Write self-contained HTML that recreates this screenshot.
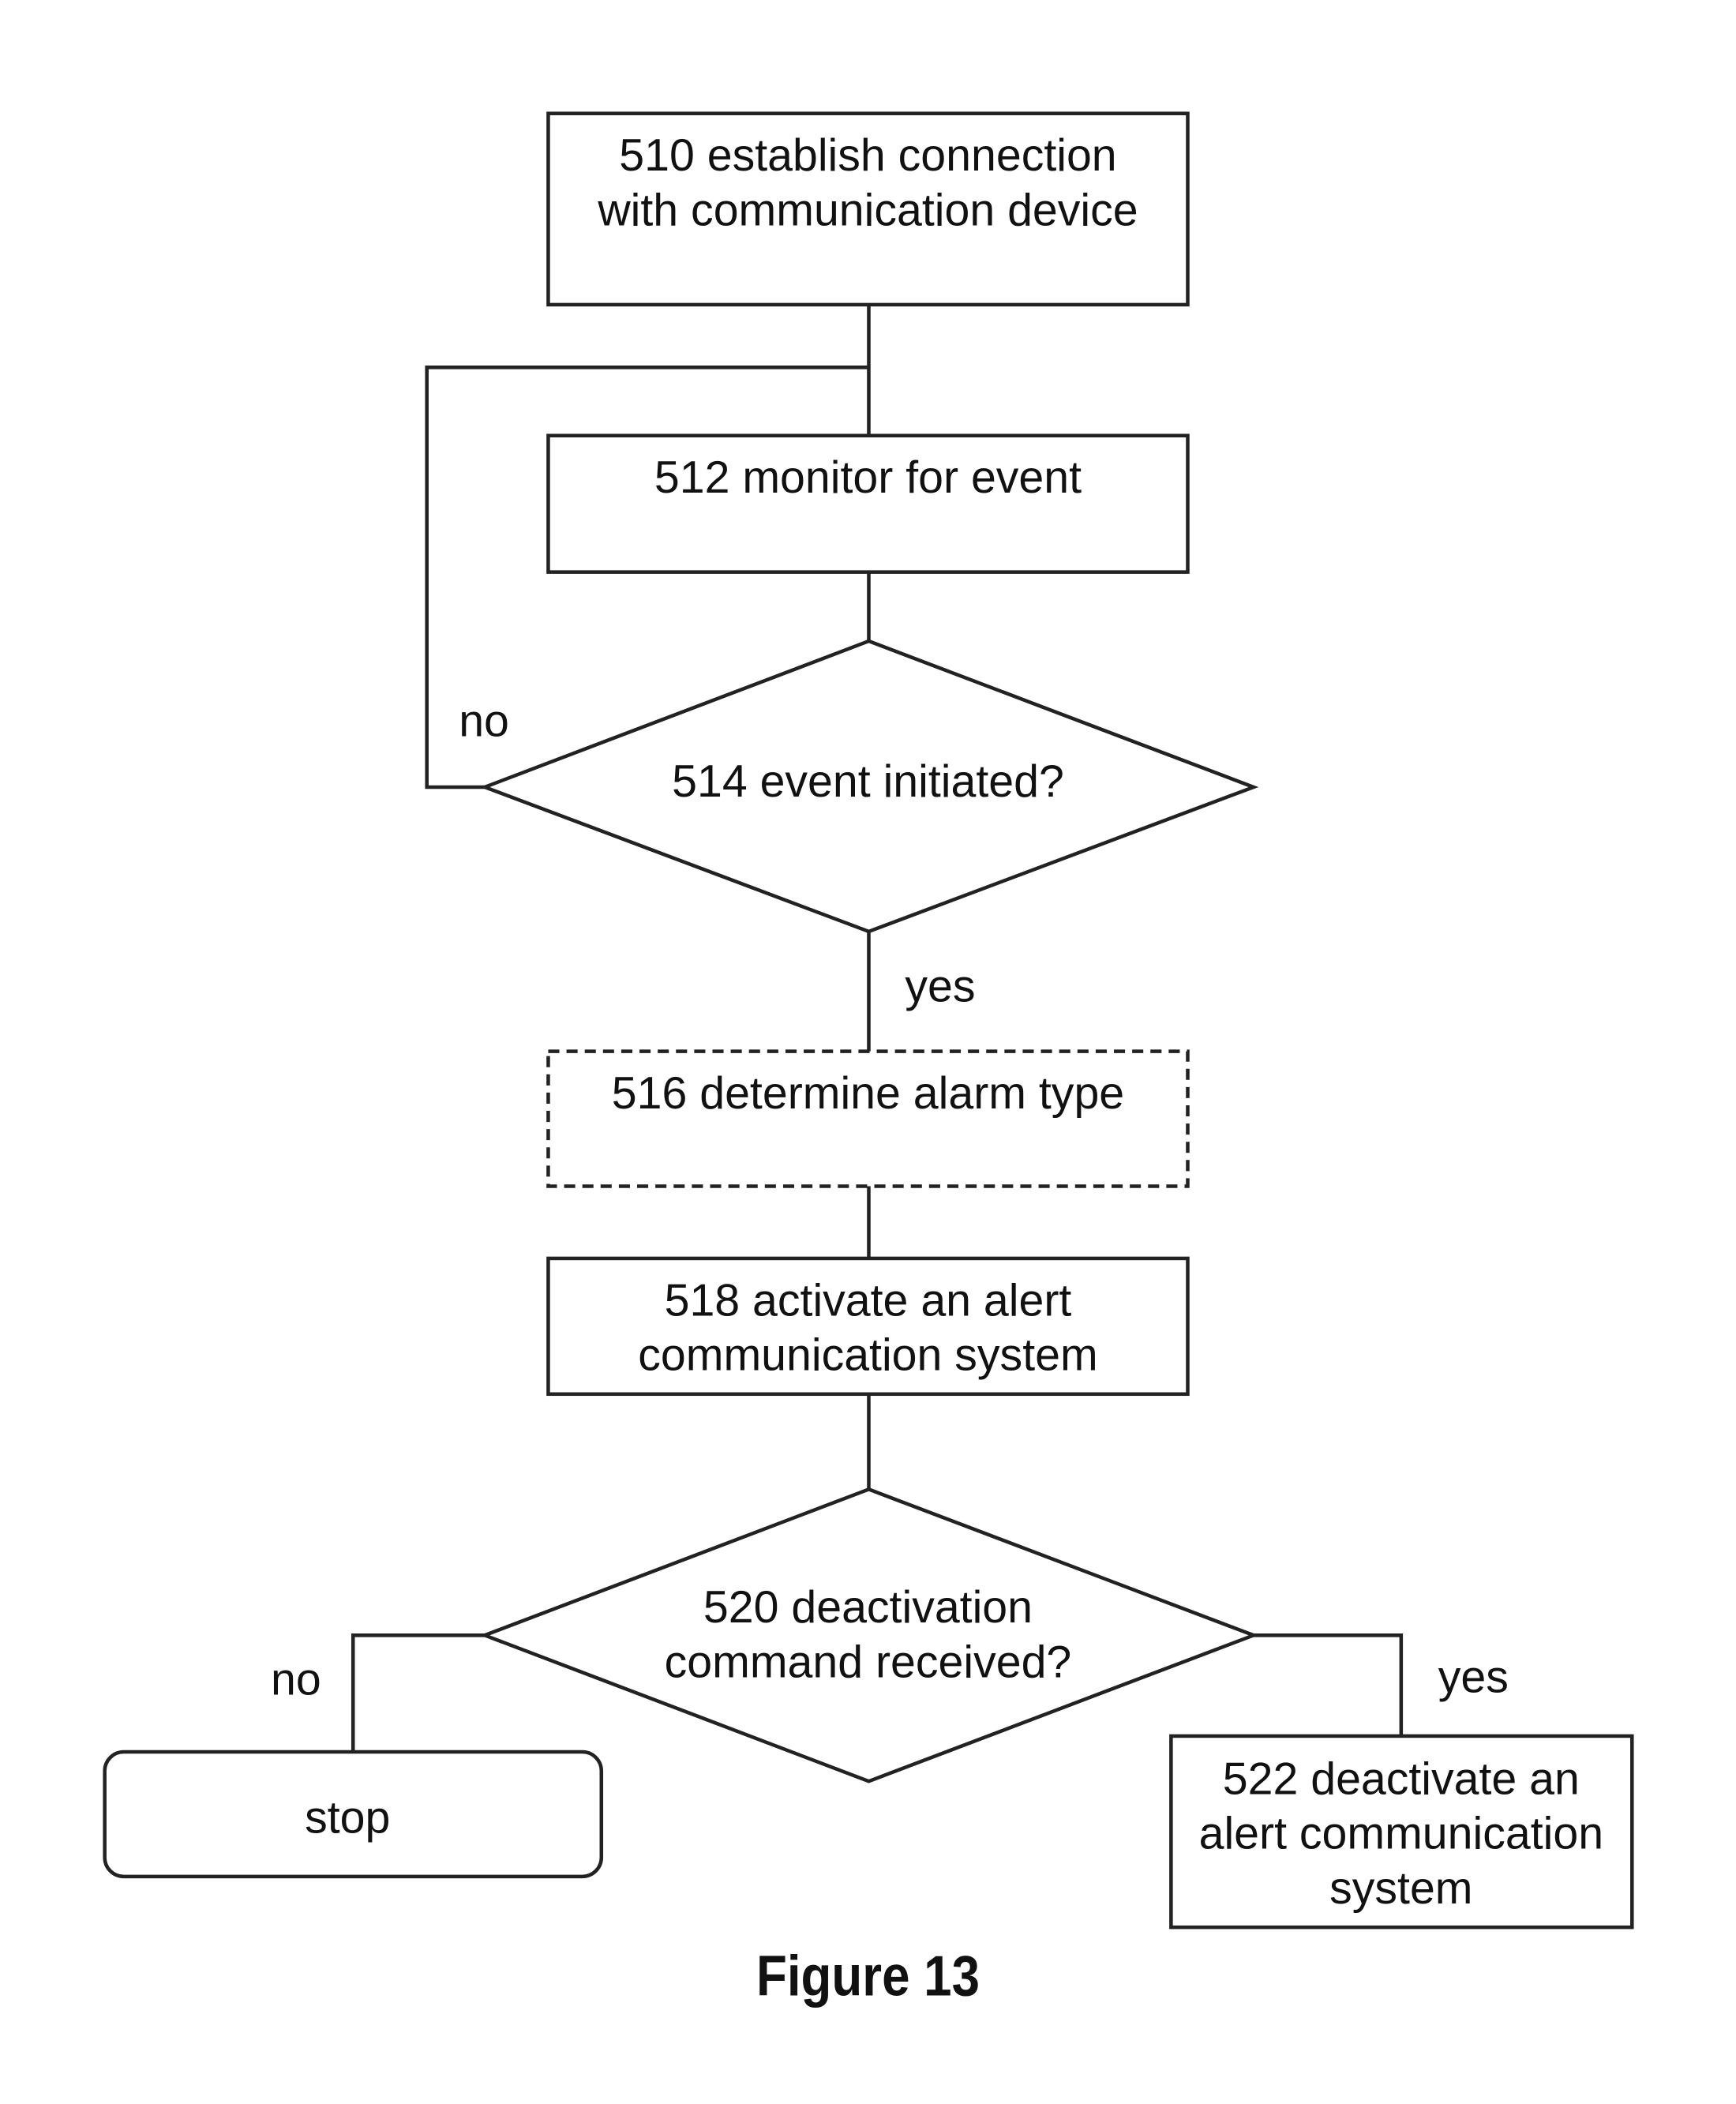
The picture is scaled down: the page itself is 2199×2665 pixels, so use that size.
<!DOCTYPE html>
<html><head><style>
html,body{margin:0;padding:0;background:#fff;}
svg{display:block;}
text{font-family:"Liberation Sans",Arial,sans-serif;font-size:57px;fill:#111;text-anchor:middle;}
</style></head><body>
<svg width="2199" height="2665" viewBox="0 0 2199 2665" xmlns="http://www.w3.org/2000/svg">
<g transform="scale(1.005)">
<g fill="none" stroke="#222" stroke-width="4.5">
<rect x="691" y="143" width="806" height="241"/>
<rect x="691" y="549" width="806" height="172"/>
<rect x="691" y="1325" width="806" height="170" stroke-dasharray="14,9"/>
<rect x="691" y="1586" width="806" height="171"/>
<polygon points="1095,808 1580,992 1095,1174 611,992"/>
<polygon points="1095,1877 1580,2061 1095,2245 611,2061"/>
<rect x="132" y="2208" width="626" height="157" rx="24"/>
<rect x="1476" y="2188" width="581" height="241"/>
<polyline points="1095,384 1095,549"/>
<polyline points="1095,463 538,463 538,992 611,992"/>
<polyline points="1095,721 1095,808"/>
<polyline points="1095,1174 1095,1325"/>
<polyline points="1095,1495 1095,1586"/>
<polyline points="1095,1757 1095,1877"/>
<polyline points="611,2061 445,2061 445,2208"/>
<polyline points="1580,2061 1766,2061 1766,2188"/>
</g>
<text x="1094" y="215">510 establish connection</text>
<text x="1094" y="284">with communication device</text>
<text x="1094" y="621">512 monitor for event</text>
<text x="1094" y="1004">514 event initiated?</text>
<text x="610" y="928">no</text>
<text x="1185" y="1262">yes</text>
<text x="1094" y="1397">516 determine alarm type</text>
<text x="1094" y="1658">518 activate an alert</text>
<text x="1094" y="1727">communication system</text>
<text x="1094" y="2045">520 deactivation</text>
<text x="1094" y="2114">command received?</text>
<text x="373" y="2136">no</text>
<text x="1857" y="2133">yes</text>
<text x="438" y="2310">stop</text>
<text x="1766" y="2261">522 deactivate an</text>
<text x="1766" y="2330">alert communication</text>
<text x="1766" y="2399">system</text>
<text x="1094" y="2515" style="font-weight:bold;font-size:72px" transform="translate(1094 0) scale(0.88 1) translate(-1094 0)">Figure 13</text>
</g>
</svg>
</body></html>
